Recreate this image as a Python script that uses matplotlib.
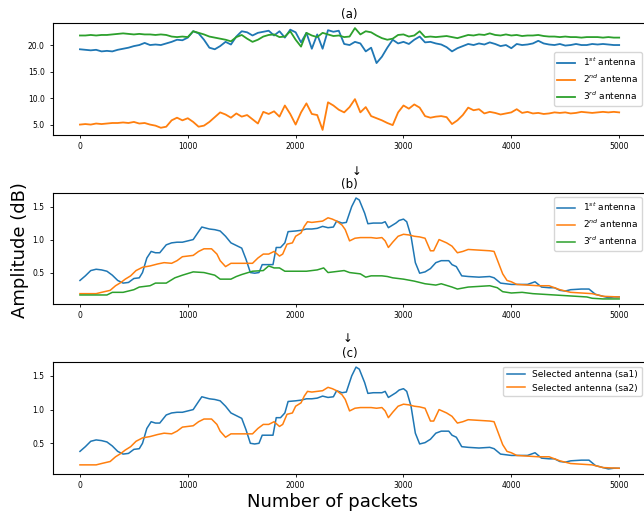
import numpy as np
import matplotlib
matplotlib.use("Agg")
import matplotlib.pyplot as plt
from matplotlib.ticker import FormatStrFormatter, MultipleLocator

# raw RSSI per antenna, one value every 50 packets
raw_ant1 = [19.2, 19.1, 19.0, 19.1, 18.8, 18.9, 18.8, 19.1, 19.3, 19.5,
            19.8, 20.0, 20.4, 20.0, 20.1, 20.0, 20.3, 20.6, 21.0, 20.9,
            21.4, 22.6, 22.2, 21.0, 19.5, 19.2, 19.8, 20.6, 20.1, 21.6,
            22.6, 22.4, 21.8, 22.3, 22.5, 22.7, 21.8, 22.6, 21.4, 22.9,
            22.4, 20.5, 22.3, 19.3, 22.0, 19.3, 22.8, 22.5, 22.7, 20.2,
            20.0, 20.6, 20.3, 18.8, 19.5, 16.6, 17.8, 19.5, 21.0, 20.3,
            20.6, 20.2, 21.0, 21.6, 20.5, 20.6, 20.3, 20.1, 19.6, 18.8,
            19.4, 19.8, 20.2, 20.0, 20.3, 20.1, 20.5, 20.2, 19.8, 20.0,
            19.4, 20.2, 20.0, 20.1, 20.3, 20.8, 20.3, 20.1, 20.0, 20.2,
            19.9, 20.0, 20.2, 20.0, 20.0, 20.2, 20.1, 20.2, 20.1, 20.0,
            20.0]
raw_ant2 = [5.0, 5.1, 5.0, 5.2, 5.1, 5.2, 5.3, 5.3, 5.4, 5.3,
            5.5, 5.2, 5.3, 5.0, 4.8, 4.4, 4.6, 5.8, 6.3, 5.8,
            6.2, 5.5, 4.6, 4.8, 5.5, 6.4, 7.3, 6.9, 6.3, 7.1,
            6.5, 6.8, 6.0, 5.2, 7.4, 7.0, 7.5, 6.5, 8.6, 7.0,
            5.0, 7.3, 9.0, 7.0, 6.8, 4.0, 9.2, 8.6, 7.8, 7.3,
            8.3, 9.8, 7.3, 8.3, 6.6, 6.2, 5.8, 5.3, 4.9, 7.3,
            8.6, 8.0, 8.8, 8.2, 6.6, 6.3, 6.5, 6.6, 6.4, 5.1,
            5.8, 6.8, 8.2, 7.7, 7.9, 7.1, 7.4, 7.2, 6.9, 7.1,
            7.3, 7.9, 7.2, 7.4, 7.1, 7.2, 7.0, 7.1, 7.3, 7.2,
            7.3, 7.1, 7.2, 7.4, 7.3, 7.2, 7.3, 7.4, 7.3, 7.4,
            7.3]
raw_ant3 = [21.8, 21.8, 21.9, 21.8, 21.9, 21.9, 22.0, 22.1, 22.2, 22.1,
            22.0, 22.1, 22.0, 22.0, 21.9, 22.0, 21.9, 21.6, 21.5, 21.6,
            21.5, 22.6, 22.3, 22.0, 21.6, 21.4, 21.2, 21.0, 20.7, 21.5,
            21.9, 21.2, 20.6, 21.0, 21.6, 21.9, 22.0, 21.5, 21.6, 22.6,
            21.0, 19.7, 22.3, 21.8, 21.5, 22.3, 22.0, 21.7, 21.8, 21.5,
            21.6, 23.2, 22.0, 22.6, 22.4, 21.8, 21.3, 21.0, 21.2, 21.9,
            22.0, 21.6, 21.8, 22.6, 21.5, 21.6, 21.5, 21.6, 21.7, 21.5,
            21.3, 21.6, 21.9, 21.8, 22.0, 21.9, 22.2, 21.9, 21.8, 22.0,
            21.8, 21.9, 21.7, 21.8, 21.8, 21.9, 21.7, 21.6, 21.6, 21.5,
            21.6, 21.5, 21.5, 21.4, 21.5, 21.5, 21.5, 21.4, 21.5, 21.4,
            21.4]

# filtered amplitude per antenna
amp1_pk = [0, 50, 100, 150, 200, 250, 300, 350, 400, 450,
           500, 550, 580, 620, 660, 700, 740, 800, 850, 900,
           950, 1000, 1050, 1100, 1130, 1200, 1250, 1300, 1350, 1400,
           1450, 1500, 1540, 1580, 1620, 1660, 1690, 1750, 1790, 1820,
           1860, 1900, 1930, 2000, 2050, 2100, 2150, 2200, 2250, 2300,
           2350, 2380, 2430, 2470, 2520, 2560, 2590, 2640, 2670, 2720,
           2800, 2830, 2860, 2900, 2930, 2960, 3000, 3030, 3070, 3110,
           3150, 3200, 3250, 3300, 3350, 3420, 3450, 3490, 3540, 3600,
           3700, 3800, 3840, 3900, 3950, 4000, 4100, 4150, 4220, 4280,
           4350, 4400, 4450, 4500, 4550, 4650, 4720, 4780, 4850, 4900,
           4950, 5000]
amp1 = [0.38, 0.45, 0.53, 0.55, 0.54, 0.52, 0.46, 0.38, 0.34, 0.35,
        0.41, 0.42, 0.50, 0.72, 0.82, 0.80, 0.80, 0.92, 0.95, 0.96,
        0.96, 0.98, 1.00, 1.12, 1.19, 1.16, 1.15, 1.13, 1.05, 0.95,
        0.91, 0.87, 0.70, 0.50, 0.49, 0.50, 0.62, 0.62, 0.62, 0.88,
        0.88, 0.95, 1.12, 1.13, 1.14, 1.16, 1.16, 1.17, 1.20, 1.18,
        1.19, 1.28, 1.25, 1.26, 1.50, 1.63, 1.60, 1.40, 1.24, 1.25,
        1.25, 1.27, 1.18, 1.22, 1.25, 1.29, 1.31, 1.27, 1.05, 0.65,
        0.49, 0.51, 0.56, 0.65, 0.68, 0.68, 0.62, 0.59, 0.45, 0.44,
        0.43, 0.44, 0.42, 0.34, 0.33, 0.32, 0.32, 0.32, 0.36, 0.28,
        0.27, 0.27, 0.23, 0.22, 0.24, 0.25, 0.25, 0.17, 0.14, 0.12,
        0.13, 0.13]

amp2_pk = [0, 100, 150, 200, 280, 330, 380, 420, 470, 520,
           580, 650, 720, 780, 850, 900, 950, 1000, 1050, 1100,
           1150, 1220, 1270, 1300, 1350, 1400, 1500, 1600, 1650, 1700,
           1750, 1800, 1850, 1880, 1920, 1970, 2000, 2050, 2080, 2110,
           2150, 2200, 2250, 2300, 2340, 2380, 2430, 2460, 2500, 2550,
           2600, 2650, 2700, 2750, 2800, 2830, 2860, 2900, 2950, 3000,
           3050, 3100, 3150, 3200, 3250, 3280, 3330, 3400, 3450, 3500,
           3550, 3600, 3700, 3800, 3840, 3880, 3920, 3960, 4000, 4050,
           4150, 4250, 4350, 4450, 4550, 4650, 4750, 4850, 5000]
amp2 = [0.18, 0.18, 0.18, 0.20, 0.23, 0.30, 0.35, 0.40, 0.45, 0.53,
        0.58, 0.60, 0.63, 0.65, 0.64, 0.68, 0.74, 0.75, 0.76, 0.82,
        0.86, 0.86, 0.78, 0.68, 0.59, 0.64, 0.64, 0.64, 0.72, 0.78,
        0.78, 0.82, 0.75, 0.78, 0.93, 0.95, 1.05, 1.10, 1.20, 1.27,
        1.26, 1.27, 1.28, 1.33, 1.31, 1.28, 1.22, 1.15, 0.98, 1.02,
        1.03, 1.03, 1.03, 1.02, 1.03, 0.98, 0.88, 0.96, 1.05, 1.08,
        1.07, 1.05, 1.04, 1.02, 0.83, 0.83, 1.00, 0.95, 0.90, 0.80,
        0.82, 0.85, 0.84, 0.83, 0.82, 0.65, 0.48, 0.38, 0.36, 0.32,
        0.31, 0.30, 0.30, 0.24, 0.20, 0.19, 0.18, 0.14, 0.13]

amp3_pk = [0, 100, 250, 300, 350, 400, 500, 550, 650, 700,
           800, 880, 950, 1050, 1150, 1250, 1300, 1400, 1450, 1500,
           1600, 1700, 1750, 1800, 1850, 1900, 2000, 2100, 2200, 2260,
           2300, 2400, 2450, 2500, 2600, 2650, 2700, 2800, 2850, 2900,
           3000, 3100, 3200, 3300, 3350, 3450, 3500, 3600, 3700, 3800,
           3870, 3920, 4000, 4100, 4200, 4300, 4400, 4500, 4600, 4700,
           4750, 4850, 5000]
amp3 = [0.16, 0.16, 0.16, 0.20, 0.20, 0.20, 0.24, 0.28, 0.30, 0.34,
        0.34, 0.42, 0.46, 0.51, 0.50, 0.46, 0.40, 0.40, 0.44, 0.47,
        0.52, 0.53, 0.60, 0.57, 0.57, 0.52, 0.52, 0.52, 0.54, 0.57,
        0.50, 0.52, 0.53, 0.50, 0.48, 0.43, 0.45, 0.45, 0.44, 0.42,
        0.40, 0.37, 0.33, 0.31, 0.33, 0.28, 0.25, 0.28, 0.29, 0.30,
        0.27, 0.21, 0.19, 0.20, 0.18, 0.17, 0.16, 0.15, 0.14, 0.13,
        0.11, 0.10, 0.10]

ant_labels = [r'1$^{st}$ antenna', r'2$^{nd}$ antenna', r'3$^{rd}$ antenna']
sel_labels = ['Selected antenna (sa1)', 'Selected antenna (sa2)']

raw_pk = np.linspace(0, 5000, len(raw_ant1))

fig = plt.figure(figsize=(6.44, 5.14), dpi=100)
left, width = 0.0823, 0.921
ax_a = fig.add_axes([left, 0.7374, width, 0.2179])
ax_b = fig.add_axes([left, 0.4086, width, 0.2160])
ax_c = fig.add_axes([left, 0.0778, width, 0.2179])

lw = 1.1
ax_a.plot(raw_pk, raw_ant1, lw=1.3, label=ant_labels[0])
ax_a.plot(raw_pk, raw_ant2, lw=1.3, label=ant_labels[1])
ax_a.plot(raw_pk, raw_ant3, lw=1.3, label=ant_labels[2])
ax_a.yaxis.set_major_formatter(FormatStrFormatter('%.1f'))
ax_a.legend(loc='center right', fontsize=6.5)
ax_a.set_title('(a)', fontsize=8.5, pad=3.5)

ax_b.plot(amp1_pk, amp1, lw=lw, label=ant_labels[0])
ax_b.plot(amp2_pk, amp2, lw=lw, label=ant_labels[1])
ax_b.plot(amp3_pk, amp3, lw=lw, label=ant_labels[2])
ax_b.legend(loc='upper right', fontsize=6.5)
ax_b.set_title('(b)', fontsize=8.5, pad=3.5)

ax_c.plot(amp1_pk, amp1, lw=lw, label=sel_labels[0])
ax_c.plot(amp2_pk, amp2, lw=lw, label=sel_labels[1])
ax_c.legend(loc='upper right', fontsize=6.5)
ax_c.set_title('(c)', fontsize=8.5, pad=3.5)
ax_c.set_xlabel('Number of packets', fontsize=13)
ax_c.xaxis.set_label_coords(0.472, -0.17)

for ax in (ax_b, ax_c):
    ax.yaxis.set_major_locator(MultipleLocator(0.5))

for ax in (ax_a, ax_b, ax_c):
    ax.tick_params(labelsize=5.5, length=2.5, width=0.6, pad=2.5)
    ax.tick_params(axis='y', pad=3.5)
    ax.set_xticks([0, 1000, 2000, 3000, 4000, 5000])
    for s in ax.spines.values():
        s.set_linewidth(0.8)

fig.text(0.031, 0.514, 'Amplitude (dB)', rotation=90, ha='center',
         va='center', fontsize=13)
fig.text(0.553, 1 - 172 / 514, '↓', ha='center', va='center', fontsize=8.5)
fig.text(0.539, 1 - 339 / 514, '↓', ha='center', va='center', fontsize=8.5)

fig.savefig('out.png', dpi=100)
